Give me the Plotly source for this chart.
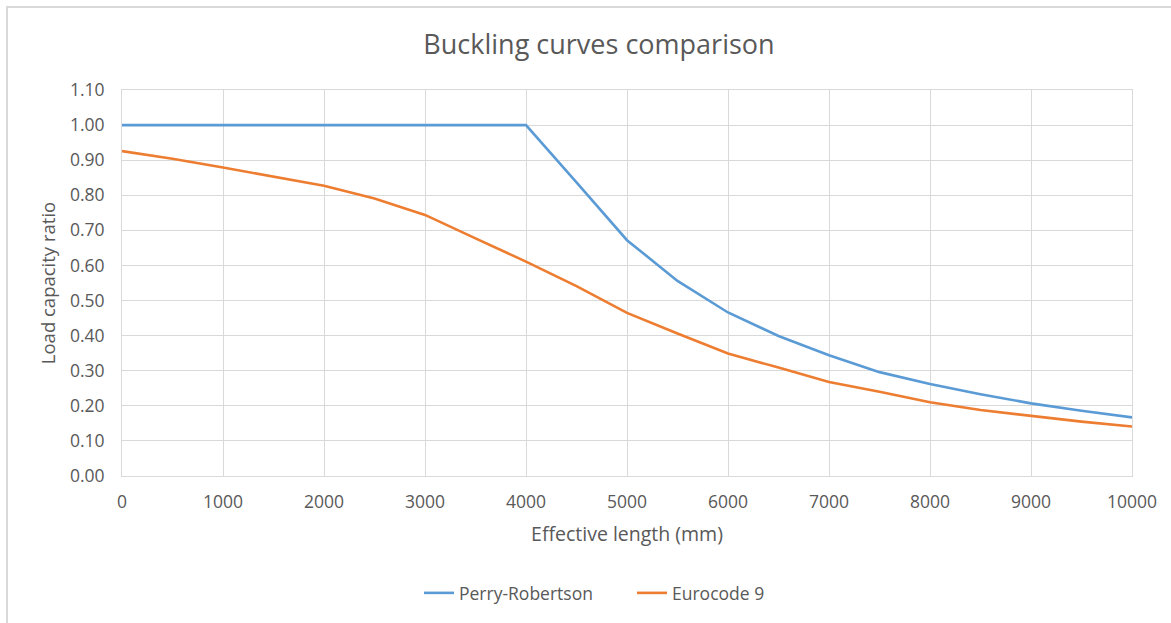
import plotly.graph_objects as go

# Effective lengths (mm)
lengths = [0, 500, 1000, 1500, 2000, 2500, 3000, 3500, 4000, 4500, 5000,
           5500, 6000, 6500, 7000, 7500, 8000, 8500, 9000, 9500, 10000]

# Load capacity ratio per method
perry_robertson = [1.00, 1.00, 1.00, 1.00, 1.00, 1.00, 1.00, 1.00, 1.00, 0.837, 0.672,
                   0.556, 0.466, 0.399, 0.344, 0.296, 0.262, 0.233, 0.207, 0.186, 0.167]
eurocode_9 = [0.926, 0.904, 0.879, 0.853, 0.827, 0.791, 0.744, 0.677, 0.611, 0.541, 0.465,
              0.406, 0.349, 0.309, 0.268, 0.240, 0.210, 0.188, 0.171, 0.155, 0.141]

x_ticks = [0, 1000, 2000, 3000, 4000, 5000, 6000, 7000, 8000, 9000, 10000]
y_ticks = [0.0, 0.1, 0.2, 0.3, 0.4, 0.5, 0.6, 0.7, 0.8, 0.9, 1.0, 1.1]

W, H = 1171, 623
L, R, T, B = 122, 39, 90, 147
PW, PH = W - L - R, H - T - B

FONT = "Open Sans"
TEXT = "#595959"
GRID = "#d9d9d9"

fig = go.Figure()
fig.add_trace(go.Scatter(x=lengths, y=perry_robertson, mode="lines", name="Perry-Robertson",
                         line=dict(color="#5B9BD5", width=2.6)))
fig.add_trace(go.Scatter(x=lengths, y=eurocode_9, mode="lines", name="Eurocode 9",
                         line=dict(color="#ED7D31", width=2.6)))


def px_x(p):
    return (p - L) / PW


def px_y(p):
    return (H - B - p) / PH


fig.update_layout(
    width=W, height=H,
    margin=dict(l=L, r=R, t=T, b=B),
    paper_bgcolor="white", plot_bgcolor="white",
    font=dict(family=FONT, color=TEXT, size=17),
    title=dict(text="Buckling curves comparison", x=599 / W, xanchor="center",
               y=1 - 45 / H, yanchor="middle",
               font=dict(family=FONT, size=27, color=TEXT)),
    xaxis=dict(range=[0, 10000], tickvals=x_ticks, ticktext=[str(v) for v in x_ticks],
               showgrid=True, gridcolor=GRID, gridwidth=1, zeroline=False,
               showline=True, linecolor=GRID, linewidth=1, mirror=True,
               ticks="", ticklabelstandoff=10,
               tickfont=dict(family=FONT, size=17.5, color=TEXT),
               title=dict(text="Effective length (mm)", standoff=15,
                          font=dict(family=FONT, size=19.5, color=TEXT))),
    yaxis=dict(range=[0, 1.1], tickvals=y_ticks, ticktext=[f"{v:.2f}" for v in y_ticks],
               showgrid=True, gridcolor=GRID, gridwidth=1, zeroline=False,
               showline=True, linecolor=GRID, linewidth=1, mirror=True,
               ticks="", ticklabelstandoff=13,
               tickfont=dict(family=FONT, size=17.5, color=TEXT),
               title=dict(text="Load capacity ratio", standoff=9,
                          font=dict(family=FONT, size=18.5, color=TEXT))),
    legend=dict(orientation="h", x=px_x(419), xanchor="left", y=px_y(593), yanchor="middle",
                font=dict(family=FONT, size=17.5, color=TEXT), entrywidth=168,
                bgcolor="rgba(0,0,0,0)"),
    shapes=[dict(type="rect", xref="paper", yref="paper",
                 x0=px_x(7), x1=px_x(1185), y0=px_y(640), y1=px_y(7),
                 line=dict(color=GRID, width=2), fillcolor="rgba(0,0,0,0)", layer="below")],
)

fig.write_html("out.html")
